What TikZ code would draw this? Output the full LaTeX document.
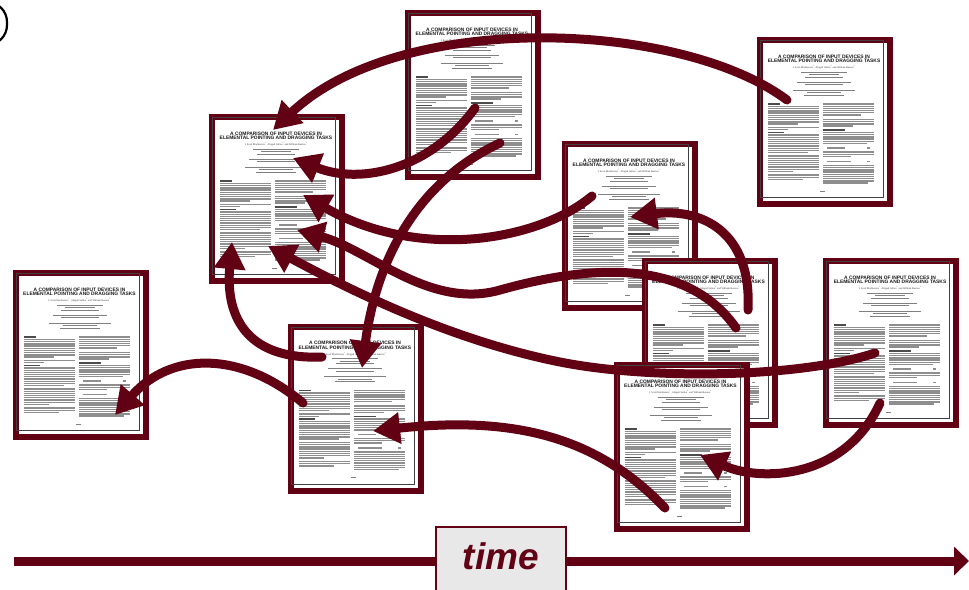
\documentclass[tikz,border=0pt]{standalone}
\usepackage{fontspec}
\setmainfont{Liberation Serif}
\setsansfont{Liberation Sans}
\usetikzlibrary{arrows.meta,calc}
\definecolor{dred}{HTML}{620014}
\definecolor{txtgray}{HTML}{8E8E8E}
\tikzset{
 paper/.style={rectangle, draw=dred, line width=6pt, fill=white, minimum width=130pt, minimum height=164pt, inner sep=0pt},
 pageedge/.style={draw=black!75, line width=1pt},
 ttl/.style={font=\fontsize{4.9}{4.5}\selectfont\sffamily\bfseries, align=center, inner sep=0pt, text=black!90},
 auth/.style={font=\fontsize{2.6}{3}\selectfont, inner sep=0pt, text=black!80},
 txt/.style={draw=txtgray, line width=1.3pt},
 afl/.style={draw=black!50, line width=0.9pt},
 hd/.style={draw=black!70, line width=1.4pt},
 flow/.style={draw=dred, line width=9pt, line cap=round, -{Triangle[length=27pt,width=30pt]}},
 axisline/.style={draw=dred, line width=9pt},
 timebox/.style={rectangle, draw=dred, line width=2pt, fill=black!9, minimum width=130pt, minimum height=80pt, inner sep=0pt},
 timelbl/.style={font=\fontsize{37}{37}\selectfont\sffamily\bfseries\itshape, text=dred, inner sep=0pt}
}
\newcommand\cbar[2]{\draw[afl] ({70-#2/2},#1) -- ++(#2,0);}
\newcommand\pblock[4]{\foreach \k in {1,...,#3}{\pgfmathsetmacro\yy{#2+(\k-1)*2.2}\pgfmathsetmacro\ww{\k==#3 ? #4 : 51}\draw[txt] (#1,\yy) -- ++(\ww,0);}}
\newcommand\papercontent{%
 \draw[pageedge] (6.5,6.5) rectangle (129.5,163.5);
 \node[ttl] at (70,25) {A COMPARISON OF INPUT DEVICES IN\\ELEMENTAL POINTING AND DRAGGING TASKS};
 \node[auth] at (70,33.5) {I. Scott MacKenzie\textsuperscript{1}, Abigail Sellen\textsuperscript{2} and William Buxton\textsuperscript{3}};
 \cbar{38}{46}\cbar{40.5}{30}\cbar{43}{38}
 \cbar{48}{54}\cbar{50.5}{38}
 \cbar{56}{62}\cbar{58.5}{34}\cbar{61}{40}
 \draw[hd] (14,70) -- ++(12,0);
 \pblock{14}{72.5}{9}{30}
 \pblock{14}{93.5}{2}{20}
 \draw[hd] (14,98.5) -- ++(16,0);
 \pblock{14}{101}{9}{40}
 \pblock{14}{122}{8}{25}
 \pblock{14}{141}{3}{35}
 \pblock{69}{70}{6}{38}
 \pblock{69}{85.5}{4}{30}
 \draw[hd] (69,96) -- ++(22,0);
 \pblock{69}{98.5}{6}{44}
 \draw[txt] (73,114) -- ++(18,0); \draw[txt] (113,114) -- ++(3,0);
 \pblock{69}{118}{3}{28}
 \draw[txt] (73,127.5) -- ++(24,0); \draw[txt] (113,127.5) -- ++(3,0);
 \pblock{69}{131.5}{9}{45}
 \draw[afl] (66,157) -- ++(5,0);
}
\newcommand\paper[3]{\node[paper] (#1) at (#2,#3) {};
 \begin{scope}[shift={(#1.north west)},shift={(-3,-3)}]\papercontent\end{scope}}
\begin{document}
\begin{tikzpicture}[x=1pt,y=-1pt]
\useasboundingbox (0,0) rectangle (969,589);
\begin{scope}
\clip (0,0) rectangle (969,589);
\draw[line width=2.2pt, black, rounded corners=20pt] (-100,2) rectangle (7,45);
% papers
\paper{p1}{80.5}{355}
\paper{p2}{277}{199}
\paper{p3}{473}{95}
\paper{p4}{825}{122}
\paper{p5}{630}{226}
\paper{p6}{709.5}{343}
\paper{p7}{891}{343}
\paper{p8}{681.5}{447}
\paper{p9}{356}{408.5}
% arrow end points
\coordinate (As) at ($(p4.center)+(-38,-22)$);
\coordinate (Ae) at ($(p2.center)+(-4,-69)$);
\coordinate (Bs) at ($(p3.center)+(2,13)$);
\coordinate (Be) at ($(p2.center)+(16,-41)$);
\coordinate (Cs) at ($(p3.center)+(27,48)$);
\coordinate (Ce) at ($(p9.center)+(6,-40.5)$);
\coordinate (Ds) at ($(p5.center)+(-38,-30)$);
\coordinate (De) at ($(p2.center)+(26,-4)$);
\coordinate (Es) at ($(p6.center)+(26.5,-15)$);
\coordinate (Ee) at ($(p2.center)+(20,31)$);
\coordinate (Fs) at ($(p6.center)+(38.5,-33)$);
\coordinate (Fe) at ($(p5.center)+(0,-9)$);
\coordinate (Gs) at ($(p7.center)+(-16,10)$);
\coordinate (Ge) at ($(p2.center)+(-9,47)$);
\coordinate (Hs) at ($(p9.center)+(-34,-51.5)$);
\coordinate (He) at ($(p2.center)+(-45,43)$);
\coordinate (Is) at ($(p9.center)+(-53,-5.5)$);
\coordinate (Ie) at ($(p1.center)+(34.5,60)$);
\coordinate (Js) at ($(p8.center)+(-16.5,61)$);
\coordinate (Je) at ($(p9.center)+(17,22.5)$);
\coordinate (Ks) at ($(p7.center)+(-11,60)$);
\coordinate (Ke) at ($(p8.center)+(18.5,8)$);
% arrows
\draw[flow] (As) .. controls (680,20) and (400,10) .. (Ae);
\draw[flow] (Bs) .. controls (430,170) and (360,185) .. (Be);
\draw[flow] (Cs) .. controls (410,185) and (375,270) .. (Ce);
\draw[flow] (Ds) .. controls (540,240) and (420,262) .. (De);
\draw[flow] (Es) .. controls (690,262) and (600,262) .. (500,290) .. controls (430,310) and (370,250) .. (Ee);
\draw[flow] (Fs) .. controls (752,230) and (700,208) .. (Fe);
\draw[flow] (Gs) .. controls (800,378) and (650,380) .. (560,362) .. controls (450,340) and (350,290) .. (Ge);
\draw[flow] (Hs) .. controls (250,360) and (225,320) .. (He);
\draw[flow] (Is) .. controls (240,350) and (170,352) .. (Ie);
\draw[flow] (Js) .. controls (600,440) and (520,415) .. (Je);
\draw[flow] (Ks) .. controls (845,480) and (760,482) .. (Ke);
% time axis
\coordinate (tstart) at (14,561);
\coordinate (tend) at (969,561);
\draw[axisline, -{Triangle[length=15pt,width=28pt]}] (tstart) -- (tend);
\node[timebox, anchor=north] (tbox) at (501,526) {};
\node[timelbl] (tlabel) at (501,556) {time};
\end{scope}
\end{tikzpicture}
\end{document}
